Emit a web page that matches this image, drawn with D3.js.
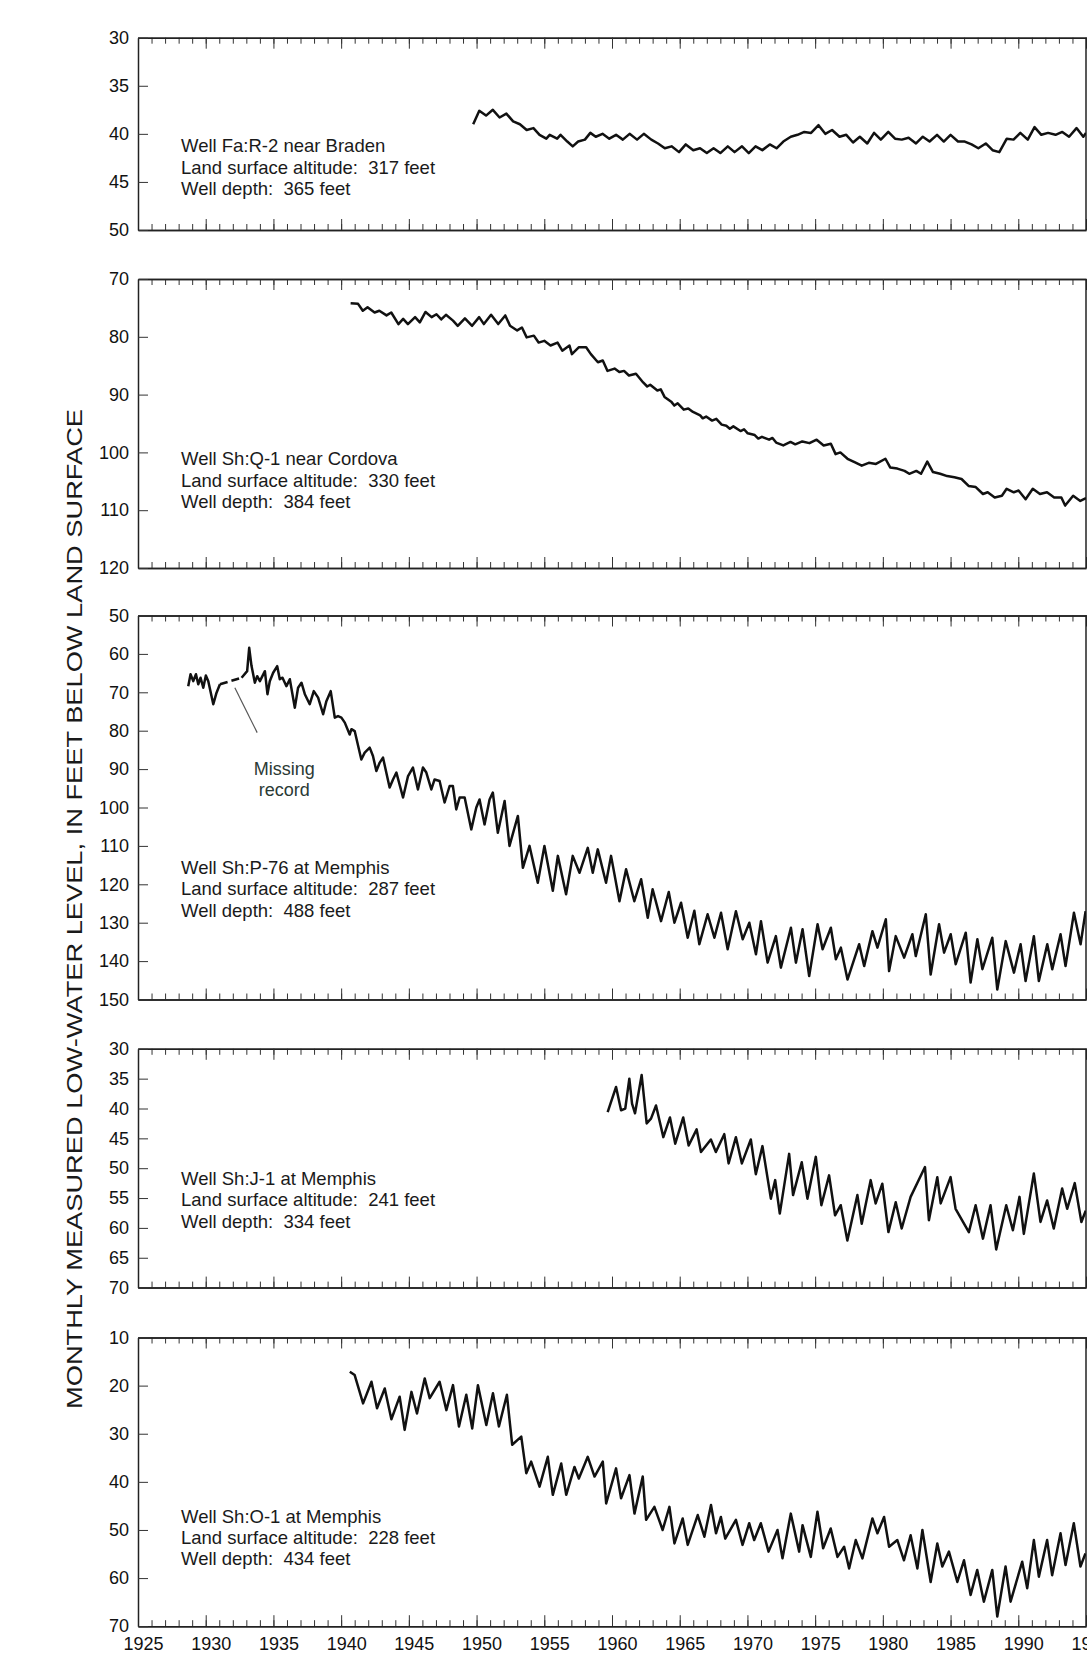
<!DOCTYPE html>
<html>
<head>
<meta charset="utf-8">
<script src="https://cdn.jsdelivr.net/npm/d3@7"></script>
<style>
  body { margin: 0; background: #fff; }
  svg { display: block; font-family: "Liberation Sans", Arial, Helvetica, sans-serif; }
</style>
</head>
<body>
<svg id="chart"></svg>
<script>
// ---- data: [year, feet below land surface] ----
const yearTicks = [1925, 1930, 1935, 1940, 1945, 1950, 1955, 1960, 1965, 1970, 1975, 1980, 1985, 1990, 1995];

const bradenTicks = [30, 35, 40, 45, 50];
const cordovaTicks = [70, 80, 90, 100, 110, 120];
const p76Ticks = [50, 60, 70, 80, 90, 100, 110, 120, 130, 140, 150];
const j1Ticks = [30, 35, 40, 45, 50, 55, 60, 65, 70];
const o1Ticks = [10, 20, 30, 40, 50, 60, 70];

const wellNames = ["Well Fa:R-2 near Braden", "Well Sh:Q-1 near Cordova", "Well Sh:P-76 at Memphis",
                   "Well Sh:J-1 at Memphis", "Well Sh:O-1 at Memphis"];
const landAltitudes = [317, 330, 287, 241, 228];
const wellDepths = [365, 384, 488, 334, 434];

const bradenLevels = [
  [1949.75,39.0],[1950.2,37.6],[1950.7,38.1],[1951.2,37.5],[1951.7,38.3],[1952.2,37.9],[1952.7,38.7],
  [1953.2,39.0],[1953.7,39.6],[1954.2,39.4],[1954.65,40.1],[1955.15,40.5],[1955.4,40.1],[1955.95,40.5],
  [1956.2,40.1],[1956.7,40.8],[1957.1,41.3],[1957.5,40.8],[1958.0,40.6],[1958.4,39.9],[1958.8,40.3],
  [1959.3,40.0],[1959.8,40.5],[1960.3,40.1],[1960.8,40.6],[1961.3,40.0],[1961.85,40.6],[1962.35,40.0],
  [1962.9,40.6],[1963.4,41.0],[1963.9,41.5],[1964.4,41.3],[1964.95,41.9],[1965.45,41.1],[1966.0,41.7],
  [1966.5,41.5],[1967.0,42.0],[1967.5,41.5],[1968.0,42.0],[1968.55,41.3],[1969.05,41.9],[1969.6,41.3],
  [1970.1,42.0],[1970.6,41.3],[1971.1,41.7],[1971.65,41.1],[1972.15,41.5],[1972.65,40.8],[1973.2,40.3],
  [1973.7,40.1],[1974.2,39.8],[1974.7,39.9],[1975.25,39.1],[1975.75,40.0],[1976.25,39.6],[1976.8,40.3],
  [1977.3,40.1],[1977.8,40.9],[1978.3,40.3],[1978.85,41.0],[1979.35,39.9],[1979.85,40.6],[1980.4,39.8],
  [1980.9,40.5],[1981.4,40.6],[1981.9,40.4],[1982.45,41.0],[1982.95,40.3],[1983.45,40.8],[1984.0,40.1],
  [1984.5,40.8],[1985.0,40.1],[1985.55,40.8],[1986.05,40.8],[1986.55,41.1],[1987.05,41.5],[1987.6,41.0],
  [1988.1,41.7],[1988.6,41.9],[1989.15,40.5],[1989.65,40.6],[1990.15,39.9],[1990.7,40.6],[1991.2,39.3],
  [1991.7,40.1],[1992.2,39.9],[1992.75,40.1],[1993.25,39.8],[1993.75,40.3],[1994.3,39.4],[1994.8,40.3],
  [1995.0,39.9]
];

const cordovaLevels = [
  [1940.7,74.2],[1941.25,74.3],[1941.6,75.5],[1941.95,74.9],[1942.47,75.8],[1942.82,75.5],[1943.35,76.3],
  [1943.7,75.8],[1944.23,77.8],[1944.58,76.9],[1944.93,77.8],[1945.46,76.6],[1945.81,77.5],[1946.23,75.7],
  [1946.68,76.6],[1947.04,76.1],[1947.39,77.0],[1947.74,76.2],[1948.26,77.2],[1948.61,78.1],[1949.14,76.8],
  [1949.67,78.1],[1950.19,76.6],[1950.54,77.8],[1951.07,76.2],[1951.6,77.8],[1952.12,76.3],[1952.47,78.1],
  [1953.0,78.9],[1953.35,78.4],[1953.7,80.1],[1954.23,79.8],[1954.58,81.0],[1955.0,80.7],[1955.46,81.5],
  [1955.98,81.0],[1956.33,82.4],[1956.86,81.5],[1957.04,83.0],[1957.56,81.8],[1958.09,81.8],[1958.44,83.0],
  [1958.96,84.4],[1959.32,84.1],[1959.67,85.9],[1960.19,85.5],[1960.54,86.1],[1960.89,85.9],[1961.25,86.7],
  [1961.77,86.4],[1962.3,87.9],[1962.6,88.6],[1962.82,88.3],[1963.35,89.3],[1963.6,89.1],[1963.88,90.4],
  [1964.4,91.3],[1964.6,91.9],[1964.85,91.5],[1965.3,92.6],[1965.63,92.4],[1965.98,93.0],[1966.51,93.6],
  [1966.7,94.1],[1966.95,93.8],[1967.39,94.5],[1967.7,94.2],[1968.1,95.2],[1968.44,95.4],[1968.7,95.9],
  [1968.96,95.5],[1969.49,96.3],[1969.75,96.0],[1970.02,96.7],[1970.54,97.0],[1970.8,97.6],[1971.07,97.3],
  [1971.6,97.8],[1971.85,97.5],[1972.12,98.3],[1972.65,98.8],[1973.18,98.2],[1973.53,98.6],[1974.05,98.1],
  [1974.58,98.4],[1975.11,97.8],[1975.63,98.8],[1976.16,98.5],[1976.51,100.3],[1976.86,100.0],[1977.39,101.1],
  [1977.91,101.7],[1978.44,102.3],[1978.96,101.8],[1979.49,102.0],[1980.19,101.1],[1980.54,102.6],[1981.07,102.8],
  [1981.6,103.2],[1981.95,103.7],[1982.47,103.2],[1982.82,103.7],[1983.28,101.6],[1983.7,103.4],[1984.23,103.7],
  [1984.75,104.1],[1985.28,104.3],[1985.81,104.6],[1986.33,105.8],[1986.86,106.0],[1987.39,107.2],[1987.74,106.9],
  [1988.26,107.8],[1988.79,107.5],[1989.14,106.3],[1989.67,106.9],[1990.02,106.6],[1990.54,108.1],[1991.07,106.3],
  [1991.6,107.2],[1992.12,106.9],[1992.65,107.8],[1993.18,107.8],[1993.46,109.2],[1994.05,107.5],[1994.58,108.4],
  [1995.0,107.9]
];

const p76Early = [
  [1928.71,68.4],[1928.88,65.3],[1929.08,67.1],[1929.28,65.3],[1929.45,67.9],[1929.62,66.2],[1929.82,68.8],
  [1930.01,65.6],[1930.19,67.1],[1930.56,73.1],[1930.8,70.1],[1931.05,67.9]
];
const p76Missing = [[1931.05,67.9],[1932.65,66.2]];
const p76Late = [
  [1932.65,66.2],[1933.06,64.5],[1933.21,58.4],[1933.38,63.1],[1933.63,67.5],[1933.8,65.8],[1934.0,67.1],
  [1934.37,64.5],[1934.56,70.5],[1934.73,67.1],[1934.98,64.9],[1935.28,63.2],[1935.47,66.6],[1935.67,66.2],
  [1935.96,68.4],[1936.21,66.6],[1936.58,74.0],[1936.82,68.8],[1937.07,67.5],[1937.32,70.5],[1937.68,73.1],
  [1937.98,69.7],[1938.3,71.4],[1938.67,75.7],[1938.91,72.3],[1939.23,69.7],[1939.53,76.6],[1939.77,76.2],
  [1940.02,76.6],[1940.27,77.9],[1940.63,81.0],[1940.76,79.6],[1941.0,80.1],[1941.49,87.5],[1941.74,85.7],
  [1942.11,84.4],[1942.35,86.6],[1942.6,90.5],[1942.85,88.3],[1943.09,87.0],[1943.58,94.8],[1943.83,92.7],
  [1944.08,90.9],[1944.57,97.4],[1944.94,91.8],[1945.3,89.6],[1945.67,95.3],[1946.04,89.6],[1946.29,90.9],
  [1946.66,95.3],[1946.9,92.7],[1947.27,93.1],[1947.64,98.7],[1948.01,94.4],[1948.25,94.4],[1948.5,100.5],
  [1948.75,97.4],[1949.12,97.4],[1949.61,105.7],[1949.98,100.0],[1950.22,97.9],[1950.59,104.4],[1950.96,97.9],
  [1951.2,96.1],[1951.57,106.6],[1952.07,98.3],[1952.43,110.0],[1953.05,102.2],[1953.42,115.7],[1953.91,110.0],
  [1954.52,119.6],[1955.01,110.0],[1955.63,121.7],[1956.0,112.6],[1956.61,122.6],[1957.1,112.6],[1957.6,117.0],
  [1958.21,110.5],[1958.58,117.0],[1958.95,110.9],[1959.56,119.6],[1959.93,112.6],[1960.55,124.4],[1961.04,116.1],
  [1961.65,124.4],[1962.15,118.7],[1962.64,128.7],[1963.0,121.3],[1963.62,129.6],[1964.19,122.0],[1964.61,130.0],
  [1965.1,124.8],[1965.59,133.9],[1966.08,126.9],[1966.45,135.6],[1967.06,127.8],[1967.56,133.9],[1968.05,127.4],
  [1968.54,136.9],[1969.15,127.0],[1969.65,134.3],[1970.14,130.0],[1970.63,138.2],[1971.0,129.6],[1971.49,140.4],
  [1972.1,133.5],[1972.47,141.7],[1973.21,131.3],[1973.58,140.4],[1974.07,131.7],[1974.56,143.9],[1975.18,130.4],
  [1975.55,136.9],[1976.16,131.3],[1976.53,139.5],[1976.9,136.5],[1977.39,144.8],[1978.25,135.6],[1978.62,141.3],
  [1979.23,132.2],[1979.6,136.5],[1980.22,129.1],[1980.46,142.6],[1980.95,133.5],[1981.57,139.1],[1982.18,133.0],
  [1982.43,138.7],[1983.17,127.8],[1983.53,143.5],[1984.15,130.4],[1984.52,137.8],[1985.01,133.0],[1985.38,140.8],
  [1986.12,132.6],[1986.48,145.6],[1986.98,134.3],[1987.35,142.1],[1988.08,133.9],[1988.45,147.4],[1989.07,134.8],
  [1989.68,143.0],[1990.17,135.6],[1990.54,145.2],[1991.15,133.5],[1991.52,145.2],[1992.14,135.6],[1992.51,142.1],
  [1993.12,133.0],[1993.49,141.3],[1994.11,127.4],[1994.6,135.6],[1994.97,127.0]
];
const missingLeader = [[1932.15,68.8],[1933.8,80.5]];

const j1Levels = [
  [1959.68,40.6],[1959.93,38.9],[1960.3,36.4],[1960.67,40.3],[1960.98,40.0],[1961.28,35.0],[1961.48,39.2],
  [1961.7,40.8],[1962.19,34.4],[1962.56,42.5],[1962.88,41.7],[1963.25,39.5],[1963.79,44.8],[1964.28,41.5],
  [1964.67,45.9],[1965.26,41.5],[1965.66,46.2],[1966.25,43.5],[1966.57,47.3],[1967.3,45.2],[1967.67,47.3],
  [1968.29,44.3],[1968.61,49.2],[1969.15,44.8],[1969.59,49.2],[1970.25,45.2],[1970.62,51.0],[1971.11,46.3],
  [1971.73,55.1],[1972.05,52.0],[1972.39,57.6],[1973.08,47.6],[1973.37,54.5],[1974.01,49.0],[1974.43,55.1],
  [1975.05,48.1],[1975.46,56.2],[1976.03,51.2],[1976.47,57.9],[1976.89,56.2],[1977.38,62.1],[1978.12,54.5],
  [1978.44,59.3],[1979.1,52.0],[1979.47,55.9],[1979.96,52.6],[1980.41,60.7],[1980.95,55.7],[1981.39,60.1],
  [1982.05,54.8],[1983.11,49.8],[1983.4,58.7],[1984.02,51.5],[1984.27,55.9],[1985.0,51.5],[1985.37,56.8],
  [1986.35,60.7],[1986.85,56.2],[1987.39,61.8],[1987.95,56.2],[1988.37,63.6],[1989.11,56.2],[1989.6,60.4],
  [1990.09,54.8],[1990.41,61.0],[1991.15,50.9],[1991.64,59.0],[1992.13,55.4],[1992.62,60.1],[1993.24,53.4],
  [1993.61,56.8],[1994.17,52.5],[1994.66,59.0],[1994.98,57.1]
];

const o1Levels = [
  [1940.64,17.1],[1941.0,17.8],[1941.62,23.7],[1942.24,19.2],[1942.65,24.7],[1943.22,20.6],[1943.71,27.0],
  [1944.32,22.3],[1944.69,29.2],[1945.19,21.3],[1945.6,25.8],[1946.17,18.5],[1946.54,22.6],[1947.27,19.2],
  [1947.77,25.1],[1948.26,19.9],[1948.7,28.5],[1949.24,21.9],[1949.68,28.9],[1950.1,19.9],[1950.72,28.2],
  [1951.21,21.6],[1951.65,28.5],[1952.24,21.9],[1952.63,32.3],[1953.3,30.6],[1953.67,38.2],[1954.03,35.8],
  [1954.65,41.0],[1955.26,34.8],[1955.63,42.7],[1956.25,36.2],[1956.62,42.7],[1957.23,36.9],[1957.55,39.3],
  [1958.21,34.8],[1958.71,38.9],[1959.32,35.8],[1959.57,44.5],[1960.3,37.2],[1960.67,43.4],[1961.29,38.6],
  [1961.66,46.6],[1962.27,38.9],[1962.52,47.9],[1963.13,45.2],[1963.74,50.0],[1964.24,45.2],[1964.61,52.8],
  [1965.22,47.6],[1965.59,53.1],[1966.33,46.9],[1966.82,51.4],[1967.31,44.8],[1967.68,50.7],[1968.04,47.3],
  [1968.36,51.8],[1969.15,47.9],[1969.64,53.1],[1970.13,48.6],[1970.5,52.1],[1970.99,48.6],[1971.56,54.5],
  [1972.22,50.0],[1972.59,55.9],[1973.2,46.6],[1973.82,54.5],[1974.07,49.0],[1974.68,55.6],[1975.17,46.2],
  [1975.59,53.8],[1976.15,49.7],[1976.65,55.6],[1977.14,53.5],[1977.51,58.0],[1978.0,52.1],[1978.49,55.9],
  [1979.23,47.6],[1979.6,50.7],[1980.09,47.3],[1980.46,53.5],[1981.07,52.1],[1981.56,56.3],[1982.05,51.1],
  [1982.55,58.0],[1982.92,50.0],[1983.53,60.8],[1984.02,52.8],[1984.39,57.6],[1984.88,54.5],[1985.5,60.8],
  [1985.99,56.3],[1986.48,63.5],[1986.97,58.3],[1987.46,64.9],[1988.08,58.3],[1988.45,68.0],[1989.06,57.6],
  [1989.43,64.9],[1990.29,56.6],[1990.66,62.1],[1991.15,52.1],[1991.52,59.7],[1992.13,52.1],[1992.5,59.4],
  [1993.12,50.7],[1993.49,57.3],[1994.1,48.6],[1994.59,57.6],[1994.96,54.9]
];

// ---- layout ----
const width = 1087, height = 1664;

const panels = [
  { top: 37.7,  bottom: 230,    domain: [30, 50],  ticks: bradenTicks,  series: [bradenLevels],     labelTop: 152.4 },
  { top: 279,   bottom: 568,    domain: [70, 120], ticks: cordovaTicks, series: [cordovaLevels],    labelTop: 465.3 },
  { top: 615.5, bottom: 999.5,  domain: [50, 150], ticks: p76Ticks,     series: [p76Early, p76Late], labelTop: 874 },
  { top: 1048.8,bottom: 1287.6, domain: [30, 70],  ticks: j1Ticks,      series: [j1Levels],         labelTop: 1185 },
  { top: 1337.5,bottom: 1626.2, domain: [10, 70],  ticks: o1Ticks,      series: [o1Levels],         labelTop: 1522.5 }
];

const svg = d3.select('#chart')
  .attr('width', width)
  .attr('height', height);

svg.append('rect').attr('width', width).attr('height', height).attr('fill', '#fff');

const x = d3.scaleLinear().domain([1925, 1995]).range([138, 1086]);
const allYears = d3.range(1925, 1996);

const line = d3.line();

panels.forEach((p, i) => {
  const y = d3.scaleLinear().domain(p.domain).range([p.top, p.bottom]);
  const g = svg.append('g');

  g.append('clipPath').attr('id', 'clip' + i)
    .append('rect')
    .attr('x', x(1925)).attr('y', p.top)
    .attr('width', x(1995) - x(1925)).attr('height', p.bottom - p.top);

  // top and bottom year ticks, pointing into the panel
  const edges = [
    { axis: d3.axisTop, pos: p.top },
    { axis: d3.axisBottom, pos: p.bottom }
  ];
  edges.forEach(e => {
    g.append('g').attr('class', 'minor')
      .attr('transform', `translate(0,${e.pos})`)
      .call(e.axis(x).tickValues(allYears).tickSizeInner(-6).tickSizeOuter(0).tickFormat(''));
    g.append('g').attr('class', 'major')
      .attr('transform', `translate(0,${e.pos})`)
      .call(e.axis(x).tickValues(yearTicks).tickSizeInner(-11).tickSizeOuter(0).tickFormat(''));
  });

  // left level axis
  g.append('g').attr('class', 'yaxis')
    .attr('transform', `translate(${x(1925)},0)`)
    .call(d3.axisLeft(y).tickValues(p.ticks).tickSizeInner(-10).tickSizeOuter(0).tickPadding(9));

  // right frame edge
  g.append('line')
    .attr('x1', x(1995)).attr('x2', x(1995))
    .attr('y1', p.top).attr('y2', p.bottom)
    .attr('stroke', '#222').attr('stroke-width', 1.5);

  line.x(d => x(d[0])).y(d => y(d[1]));

  p.series.forEach(s => {
    g.append('path')
      .attr('d', line(s))
      .attr('clip-path', `url(#clip${i})`)
      .attr('fill', 'none')
      .attr('stroke', '#111')
      .attr('stroke-width', 2.5)
      .attr('stroke-linejoin', 'round');
  });

  if (i === 2) {
    g.append('path')
      .attr('d', line(p76Missing))
      .attr('fill', 'none')
      .attr('stroke', '#111')
      .attr('stroke-width', 2.5)
      .attr('stroke-dasharray', '8,4');
    g.append('path')
      .attr('d', line(missingLeader))
      .attr('fill', 'none')
      .attr('stroke', '#555')
      .attr('stroke-width', 1.2);
    g.append('text')
      .attr('x', x(1935.8)).attr('y', y(91.5))
      .attr('text-anchor', 'middle')
      .attr('font-size', 18).attr('fill', '#2b3a35')
      .text('Missing');
    g.append('text')
      .attr('x', x(1935.8)).attr('y', y(96.9))
      .attr('text-anchor', 'middle')
      .attr('font-size', 18).attr('fill', '#2b3a35')
      .text('record');
  }

  // well label
  const lab = g.append('text')
    .attr('x', 181)
    .attr('y', p.labelTop)
    .attr('font-size', 18.5)
    .attr('fill', '#1a1a1a')
    .style('white-space', 'pre');
  [wellNames[i], `Land surface altitude:  ${landAltitudes[i]} feet`, `Well depth:  ${wellDepths[i]} feet`]
    .forEach((t, k) => {
      lab.append('tspan').attr('x', 181).attr('dy', k === 0 ? 0 : 21.3).text(t);
    });

  if (i === panels.length - 1) {
    g.append('g').attr('class', 'xlabels')
      .attr('transform', `translate(5,${p.bottom})`)
      .call(d3.axisBottom(x).tickValues(yearTicks).tickSize(0).tickPadding(11).tickFormat(d3.format('d')));
  }
});

svg.selectAll('.minor path, .major path').attr('stroke', '#222').attr('stroke-width', 1.5);
svg.selectAll('.minor line, .major line').attr('stroke', '#333').attr('stroke-width', 1);
svg.selectAll('.yaxis path').attr('stroke', '#222').attr('stroke-width', 1.5);
svg.selectAll('.yaxis line').attr('stroke', '#333').attr('stroke-width', 1);
svg.selectAll('.yaxis text').attr('font-size', 18).attr('fill', '#111')
  .attr('font-family', '"Liberation Sans", Arial, sans-serif');
svg.selectAll('.xlabels path').remove();
svg.selectAll('.xlabels text').attr('font-size', 18).attr('fill', '#111')
  .attr('font-family', '"Liberation Sans", Arial, sans-serif');

// y-axis title
svg.append('text')
  .attr('transform', 'translate(82,909) rotate(-90)')
  .attr('text-anchor', 'middle')
  .attr('font-size', 22)
  .attr('fill', '#1a1a1a')
  .attr('textLength', 1000)
  .attr('lengthAdjust', 'spacingAndGlyphs')
  .text('MONTHLY MEASURED LOW-WATER LEVEL, IN FEET BELOW LAND SURFACE');
</script>
</body>
</html>
